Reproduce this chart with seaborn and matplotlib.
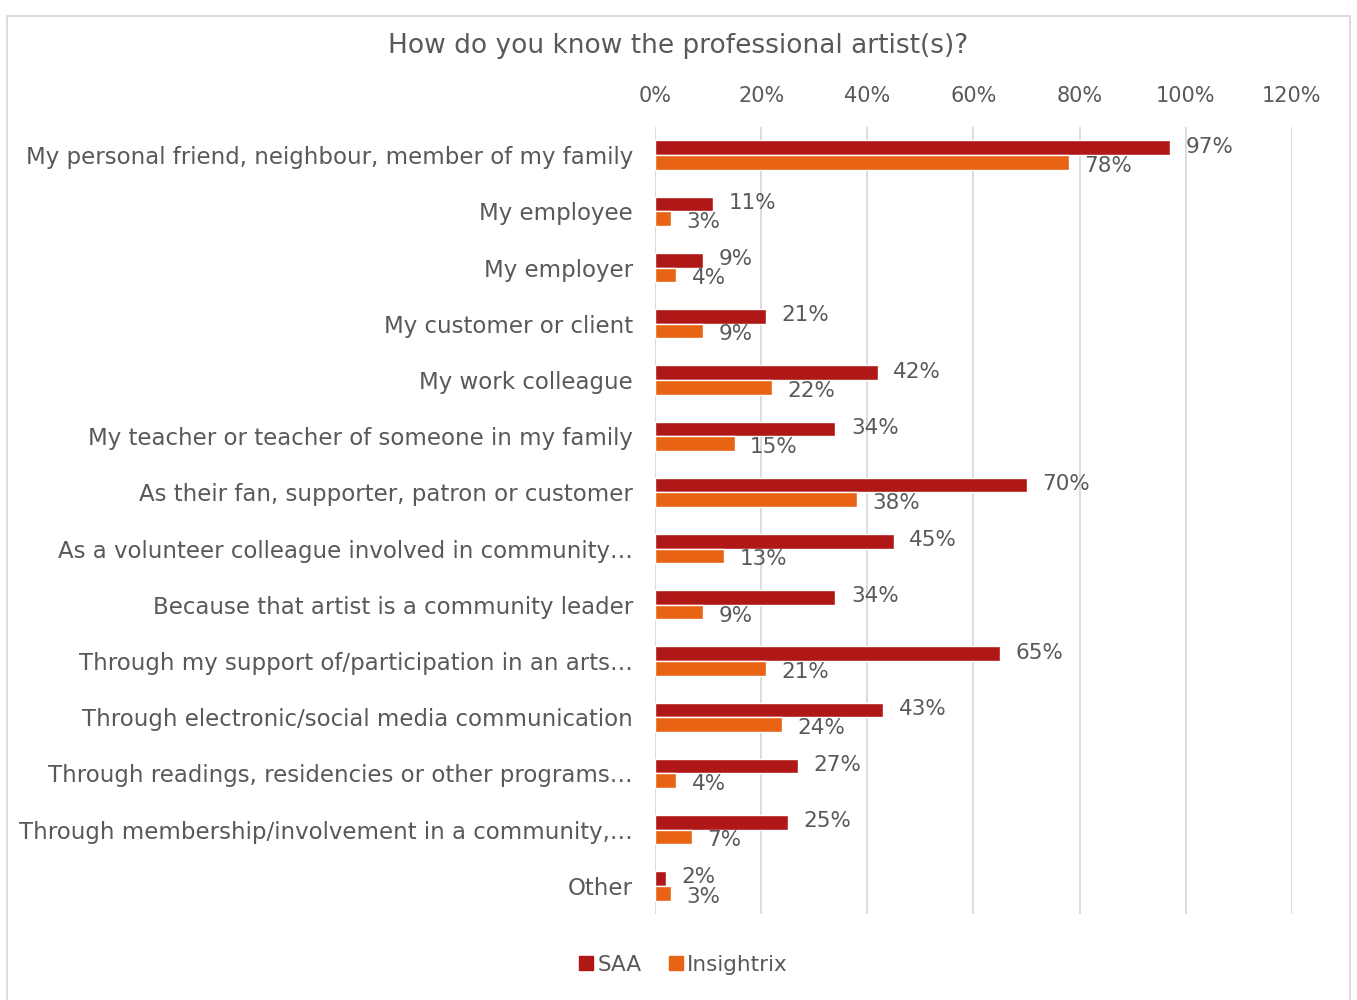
import matplotlib
matplotlib.use("Agg")
import matplotlib.pyplot as plt
from matplotlib.patches import Rectangle
from matplotlib.lines import Line2D
import seaborn as sns
import pandas as pd

categories = [
    "My personal friend, neighbour, member of my family",
    "My employee",
    "My employer",
    "My customer or client",
    "My work colleague",
    "My teacher or teacher of someone in my family",
    "As their fan, supporter, patron or customer",
    "As a volunteer colleague involved in community\u2026",
    "Because that artist is a community leader",
    "Through my support of/participation in an arts\u2026",
    "Through electronic/social media communication",
    "Through readings, residencies or other programs\u2026",
    "Through membership/involvement in a community,\u2026",
    "Other",
]
saa = [97, 11, 9, 21, 42, 34, 70, 45, 34, 65, 43, 27, 25, 2]
insightrix = [78, 3, 4, 9, 22, 15, 38, 13, 9, 21, 24, 4, 7, 3]
series = ["SAA", "Insightrix"]
colors = ["#B01717", "#E86314"]
ticks = [0, 20, 40, 60, 80, 100, 120]

df = pd.DataFrame({
    "category": categories * 2,
    "value": saa + insightrix,
    "series": ["SAA"] * len(categories) + ["Insightrix"] * len(categories),
})

sns.set_theme(style="white")
plt.rcParams["font.family"] = ["DejaVu Sans"]
text_color = "#595959"
fs = 15.5

fig = plt.figure(figsize=(13.57, 10), dpi=100)
ax = fig.add_axes([0.4827, 0.086, 0.952 - 0.4827, 0.873 - 0.086])

sns.barplot(data=df, y="category", x="value", hue="series", order=categories,
            hue_order=series, palette=colors, width=0.52, orient="h",
            saturation=1, ax=ax, legend=False)

ax.set_xlim(0, 120)
ax.set_ylim(len(categories) - 0.5, -0.5)
ax.set_xticks(ticks)
ax.set_xticklabels([f"{t}%" for t in ticks])
ax.xaxis.tick_top()
ax.tick_params(axis="x", length=0, pad=15, labelsize=15, colors=text_color)
ax.tick_params(axis="y", length=0, pad=16, labelsize=16.5, colors=text_color)
ax.set_xlabel("")
ax.set_ylabel("")
ax.grid(axis="x", color="#D9D9D9", linewidth=1.3)
ax.set_axisbelow(True)
for s in ax.spines.values():
    s.set_visible(False)

# value labels beside each bar
for container, vals, dy in zip(ax.containers, [saa, insightrix], [-0.02, 0.06]):
    for bar, v in zip(container, vals):
        ax.text(bar.get_width() + 2.9, bar.get_y() + bar.get_height() / 2 + dy,
                f"{v}%", va="center", ha="left", fontsize=fs, color=text_color)

fig.text(0.5, 0.954, "How do you know the professional artist(s)?",
         ha="center", va="center", fontsize=19, color=text_color)

handles = [Line2D([0], [0], marker="s", linestyle="", markersize=10,
                  markerfacecolor=c, markeredgecolor=c) for c in colors]
fig.legend(handles, series, loc="center", bbox_to_anchor=(0.503, 0.035),
           ncol=2, frameon=False, fontsize=fs, handletextpad=0.1,
           columnspacing=1.2, labelcolor=text_color, handlelength=0.8)

fig.patches.append(Rectangle((0.0052, -0.01), 0.9897, 1.004 - 0.01, transform=fig.transFigure,
                             fill=False, edgecolor="#D9D9D9", linewidth=1.3))

fig.savefig("out.png", dpi=100, facecolor="white")
